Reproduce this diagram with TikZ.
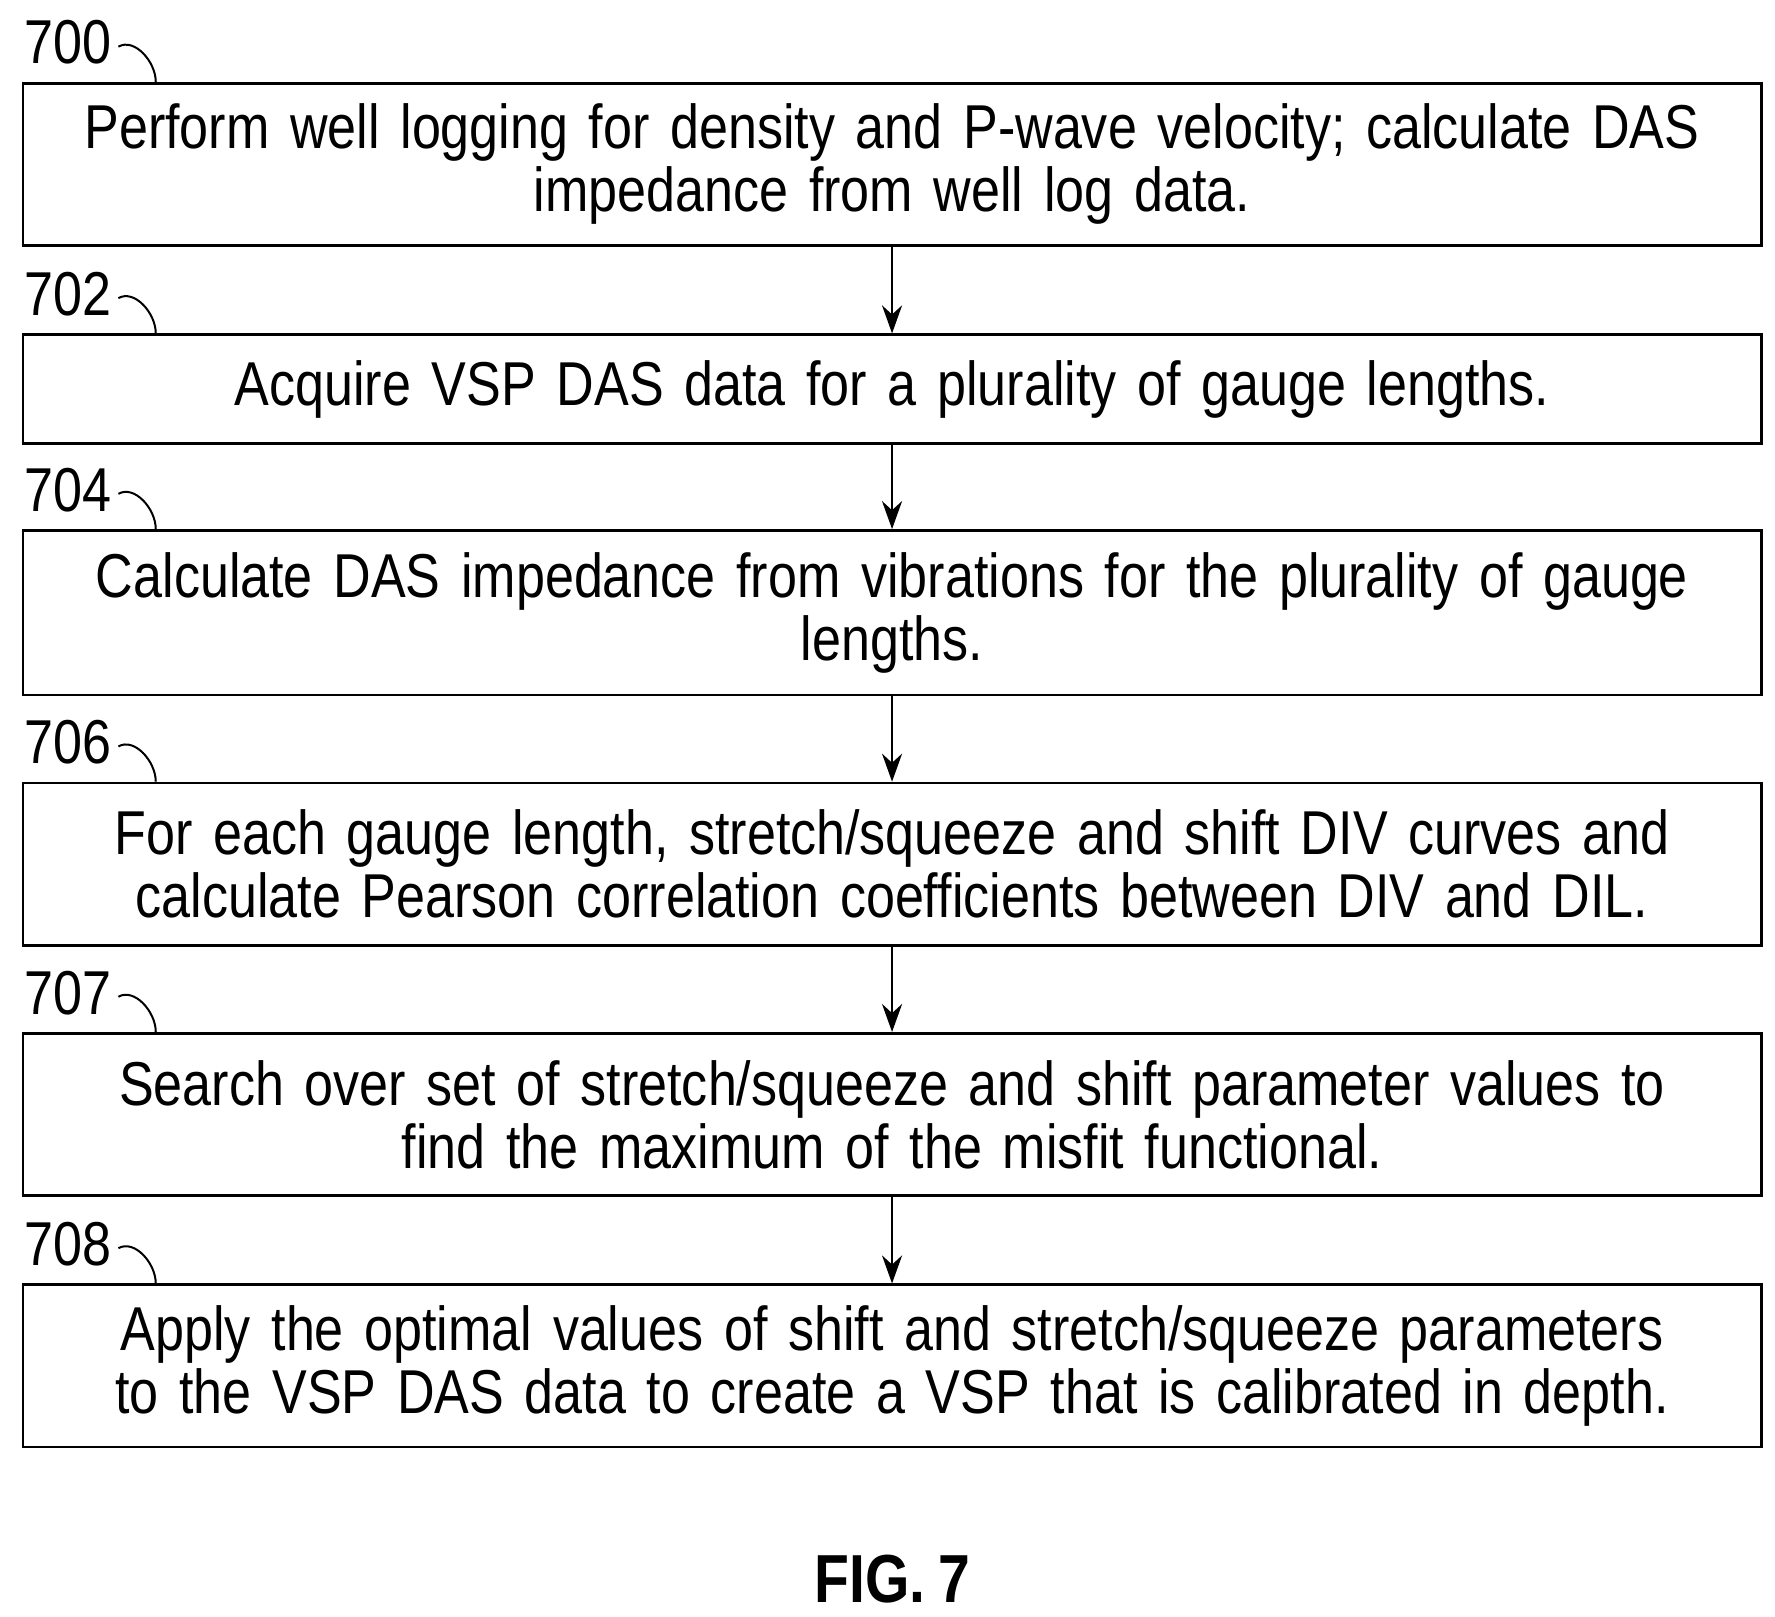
\documentclass[tikz,border=0pt]{standalone}
\usepackage{fontspec}
\setmainfont{Liberation Sans}[FakeStretch=0.84,WordSpace=0.8]
\usetikzlibrary{arrows.meta}
\tikzset{
    stepbox/.style={
           rectangle,
           draw=black, line width=1.4pt,
           minimum width=30.56cm,
           inner sep=2pt,
           text centered,
           text width=29.6cm,
           font=\fontsize{31}{31.5}\selectfont
           },
    reflabel/.style={font=\fontsize{31}{31}\selectfont, inner sep=0pt},
}
\begin{document}
\begin{tikzpicture}[x=0.02cm,y=-0.02cm,>={Stealth[length=14pt,width=10pt]},line width=1.4pt]
\useasboundingbox (0,0) rectangle (1560,1421);

% boxes: name / label / centre y / height / text
\foreach \nm/\lbl/\cy/\hh/\txt in {
  b0/700/144.5/145/{Perform well logging for density and P-wave velocity; calculate DAS\\impedance from well log data.},
  b2/702/342/98/{Acquire VSP DAS data for a plurality of gauge lengths.},
  b4/704/538.5/147/{Calculate DAS impedance from vibrations for the plurality of gauge\\lengths.},
  b6/706/759.5/145/{For each gauge length, stretch/squeeze and shift DIV curves and\\calculate Pearson correlation coefficients between DIV and DIL.},
  b7/707/979.5/145/{Search over set of stretch/squeeze and shift parameter values to\\find the maximum of the misfit functional.},
  b8/708/1200.5/145/{Apply the optimal values of shift and stretch/squeeze parameters\\to the VSP DAS data to create a VSP that is calibrated in depth.}}
{
  \node[stepbox, minimum height=\hh*0.02cm-1.4pt] (\nm) at (784,\cy) {\txt};
  \node[reflabel, anchor=south west] (l\nm) at (20,\cy-\hh/2-14) {\lbl};
  \draw[line width=1pt] ([xshift=3pt,yshift=-2pt]l\nm.east) .. controls +(14,-8) and +(0,-18) .. ([xshift=2.36cm]\nm.north west);
}

\foreach \a/\b in {b0/b2, b2/b4, b4/b6, b6/b7, b7/b8}
  \draw[->] (\a) -- (\b);

\node[font=\fontsize{34}{34}\selectfont\bfseries] (fig) at (784,1388) {FIG. 7};
\end{tikzpicture}
\end{document}
